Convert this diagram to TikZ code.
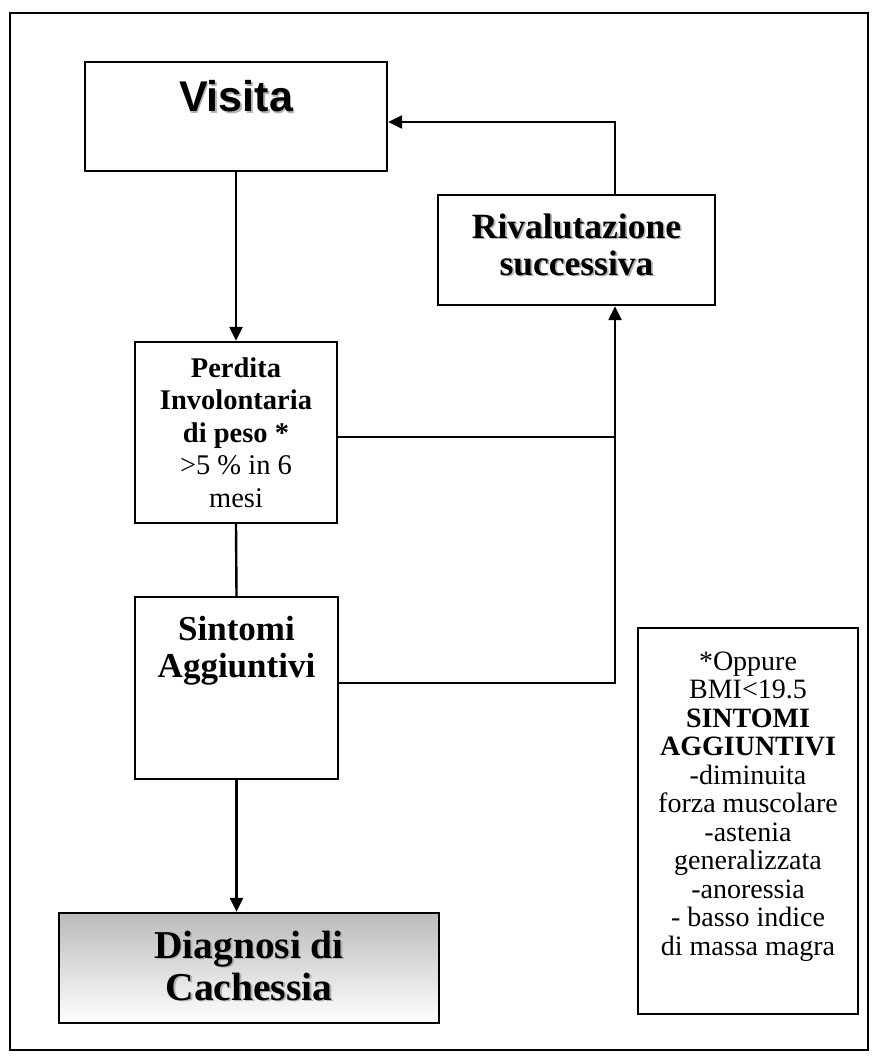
\documentclass[tikz,border=0pt]{standalone}
\usepackage{fontspec}
\setmainfont{Liberation Serif}
\newfontfamily\arialfont{Liberation Sans}
\usetikzlibrary{arrows.meta}
\newcommand{\shd}[1]{\leavevmode\rlap{\hspace{1.7pt}\raisebox{-1.7pt}{\textcolor{black!30}{#1}}}#1}
\tikzset{
  box/.style={draw=black, line width=2.4pt, rectangle, inner sep=0pt},
  conn/.style={draw=black, line width=2.4pt},
  arr/.style={-{Triangle[length=14pt,width=13pt]}},
  txt/.style={inner sep=0pt, align=center, anchor=north},
}
\begin{document}
\begin{tikzpicture}[x=1pt,y=-1pt]
\useasboundingbox (0,0) rectangle (879,1064);
\node[box, minimum width=858pt, minimum height=1037pt] (frame) at (439,531.5) {};
% boxes
\node[box, minimum width=302pt, minimum height=109pt] (visita) at (236,116.5) {};
\node[box, minimum width=277pt, minimum height=110pt] (riv) at (576.5,250) {};
\node[box, minimum width=202pt, minimum height=181pt] (perdita) at (236,432.5) {};
\node[box, minimum width=203pt, minimum height=182pt] (sintomi) at (236.5,688) {};
\node[box, minimum width=380pt, minimum height=110pt, top color=black!27, bottom color=white] (diagnosi) at (249,968) {};
\node[box, minimum width=220pt, minimum height=386pt] (note) at (748,821) {};
% texts
\node[inner sep=0pt, anchor=base, font=\arialfont\bfseries\fontsize{43}{47}\selectfont] (visita-t) at (236,112) {\shd{Visita}};
\node[txt, font=\bfseries\fontsize{35.5}{37}\selectfont] (riv-t) at (576.5,209.6) {\rule{0pt}{28.4pt}\shd{Rivalutazione}\\\shd{successiva}};
\node[txt, font=\fontsize{28.5}{32.5}\selectfont] (perdita-t) at (236,354.2) {\rule{0pt}{22.8pt}\textbf{Perdita}\\\textbf{Involontaria}\\\textbf{di peso *}\\>5 \% in 6\\mesi};
\node[txt, font=\bfseries\fontsize{35}{37}\selectfont] (sintomi-t) at (236.5,612) {\rule{0pt}{28pt}Sintomi\\Aggiuntivi};
\node[txt, font=\bfseries\fontsize{39.5}{42}\selectfont] (diagnosi-t) at (249,926.4) {\rule{0pt}{31.6pt}\shd{Diagnosi di}\\\shd{Cachessia}};
\node[txt, font=\fontsize{28}{28.5}\selectfont] (note-t) at (748,647.6) {\rule{0pt}{22.4pt}*Oppure\\BMI<19.5\\\textbf{SINTOMI}\\\textbf{AGGIUNTIVI}\\-diminuita\\forza muscolare\\-astenia\\generalizzata\\-anoressia\\- basso indice\\di massa magra};
% connector junctions
\coordinate (k) at (615,437);
\coordinate (j) at (615,683);
\coordinate (m) at (615,122);
% connectors
\draw[conn, arr] (visita.south) -- (perdita.north);
\draw[conn] (perdita.south) -- (sintomi.north);
\draw[conn, arr] (sintomi.south) -- (sintomi.south |- diagnosi.north);
\draw[conn] (perdita.east |- k) -- (k);
\draw[conn, arr] (sintomi.east |- j) -- (j) -- (j |- riv.south);
\draw[conn, arr] (m |- riv.north) -- (m) -- (visita.east |- m);
\end{tikzpicture}
\end{document}
